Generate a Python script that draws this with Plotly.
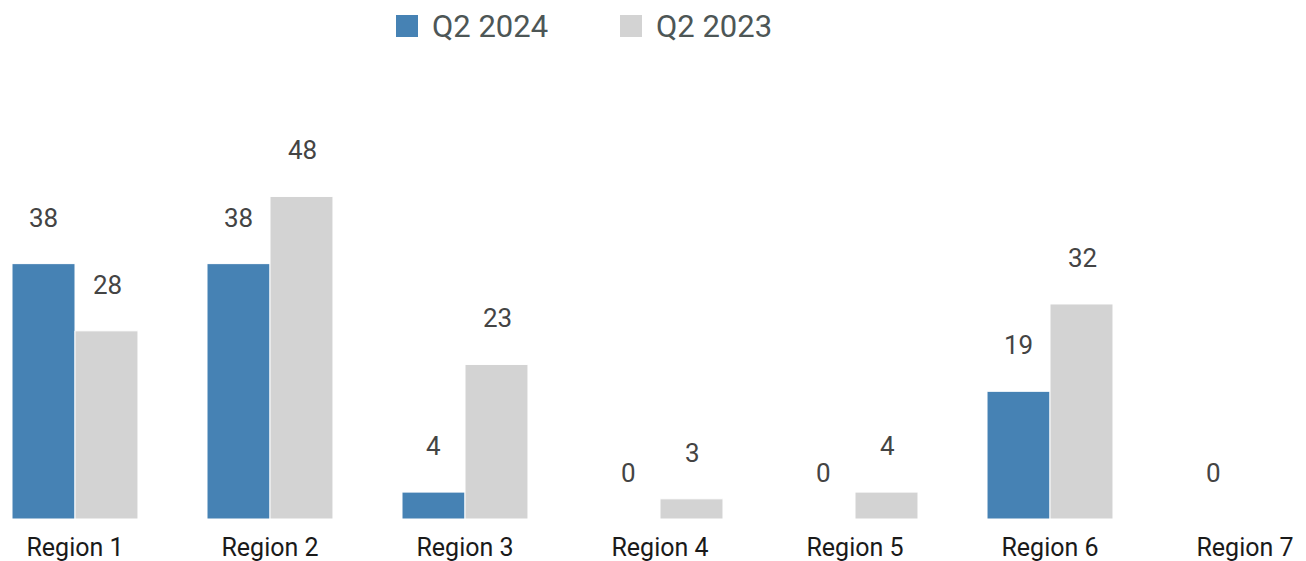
import plotly.graph_objects as go

regions = ['Region 1', 'Region 2', 'Region 3', 'Region 4', 'Region 5', 'Region 6', 'Region 7']
series_names = ['Q2 2024', 'Q2 2023']
q2_2024 = [38, 38, 4, 0, 0, 19, 0]
q2_2023 = [28, 48, 23, 3, 4, 32, None]

colors = ['#4682B4', '#D3D3D3']
font_family = 'Roboto, Arial, sans-serif'

W, H = 1306, 561
M_TOP, M_BOTTOM = 100, 42
plot_h = H - M_TOP - M_BOTTOM


def paper_y(px):
    # pixel row from top of page -> paper coordinate
    return (H - M_BOTTOM - px) / plot_h


fig = go.Figure()

for name, values, color in zip(series_names, [q2_2024, q2_2023], colors):
    fig.add_trace(go.Bar(
        name=name,
        x=regions,
        y=values,
        marker=dict(color=color, line=dict(width=1, color='white')),
        hoverinfo='x+y',
        showlegend=False,
    ))

# value labels sit well above the bars, so use annotations with a pixel shift
annotations = []
for values, shift in [(q2_2024, -32), (q2_2023, 32)]:
    for region, v in zip(regions, values):
        if v is None:
            continue
        annotations.append(dict(
            x=region, y=v, xref='x', yref='y',
            text=str(v), showarrow=False,
            xshift=shift, yshift=46, yanchor='middle',
            font=dict(family=font_family, size=26, color='#444444'),
        ))

# legend drawn by hand so the swatches can be as big as in the original
shapes = []
for i, (name, color) in enumerate(zip(series_names, colors)):
    x0 = 396 + i * 224
    shapes.append(dict(
        type='rect', xref='paper', yref='paper',
        x0=x0 / W, x1=(x0 + 22) / W,
        y0=paper_y(37), y1=paper_y(15),
        fillcolor=color, line=dict(width=0),
    ))
    annotations.append(dict(
        x=(x0 + 34) / W, y=paper_y(26), xref='paper', yref='paper',
        text=name, showarrow=False, xanchor='left', yanchor='middle',
        font=dict(family=font_family, size=31, color='#4d5656'),
    ))

fig.update_layout(
    barmode='group',
    bargap=0.354,
    bargroupgap=0,
    width=W,
    height=H,
    margin=dict(l=0, r=0, t=M_TOP, b=M_BOTTOM),
    paper_bgcolor='white',
    plot_bgcolor='white',
    font=dict(family=font_family),
    annotations=annotations,
    shapes=shapes,
    showlegend=False,
    xaxis=dict(
        range=[-0.3846, 6.3128],
        showgrid=False,
        showline=False,
        zeroline=False,
        automargin=False,
        ticks='',
        ticklabelstandoff=11,
        tickfont=dict(size=25, color='#1a1a1a'),
    ),
    yaxis=dict(
        range=[0, 62.35],
        visible=False,
        showgrid=False,
        zeroline=False,
        automargin=False,
    ),
)

fig.write_html('out.html', config={'displayModeBar': False},
               post_script="document.body.style.margin='0';")
